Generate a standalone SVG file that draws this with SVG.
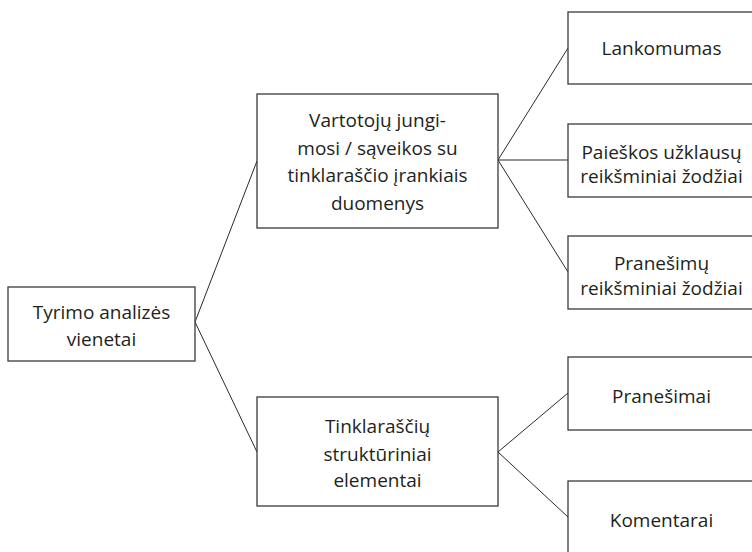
<svg xmlns="http://www.w3.org/2000/svg" width="752" height="552" viewBox="0 0 752 552">
<style>
.box{fill:#fff;stroke:#3a3a3a;stroke-width:1.3}
.lbl{font-family:"Open Sans","Noto Sans",sans-serif;font-size:19px;fill:#231f20;text-anchor:middle}
.edge{stroke:#2a2a2a;stroke-width:1;fill:none}
</style>
<rect width="752" height="552" fill="#fff"/>
<g id="connectors">
<line class="edge" x1="195" y1="322" x2="257" y2="161"/>
<line class="edge" x1="195" y1="322" x2="257" y2="452"/>
<line class="edge" x1="498" y1="160" x2="568" y2="48"/>
<line class="edge" x1="498" y1="160" x2="568" y2="160"/>
<line class="edge" x1="498" y1="160" x2="568" y2="272"/>
<line class="edge" x1="498" y1="452" x2="568" y2="393"/>
<line class="edge" x1="498" y1="452" x2="568" y2="517"/>
</g>
<g id="root">
<rect class="box" x="8" y="287" width="187" height="74"/>
<text class="lbl" x="101.5" y="319">Tyrimo analizės</text>
<text class="lbl" x="101.5" y="346">vienetai</text>
</g>
<g id="users">
<rect class="box" x="257" y="94" width="241" height="134"/>
<text class="lbl" x="377.5" y="127">Vartotojų jungi-</text>
<text class="lbl" x="377.5" y="154.5">mosi / sąveikos su</text>
<text class="lbl" x="377.5" y="182">tinklaraščio įrankiais</text>
<text class="lbl" x="377.5" y="209.5">duomenys</text>
</g>
<g id="struct">
<rect class="box" x="257" y="397" width="241" height="109"/>
<text class="lbl" x="377.5" y="433">Tinklaraščių</text>
<text class="lbl" x="377.5" y="460.5">struktūriniai</text>
<text class="lbl" x="377.5" y="487">elementai</text>
</g>
<g id="lankomumas">
<rect class="box" x="568" y="12" width="190" height="72"/>
<text class="lbl" x="661.5" y="55">Lankomumas</text>
</g>
<g id="paieskos">
<rect class="box" x="568" y="124" width="190" height="73"/>
<text class="lbl" x="661.5" y="158.5">Paieškos užklausų</text>
<text class="lbl" x="661.5" y="183">reikšminiai žodžiai</text>
</g>
<g id="pranesimu">
<rect class="box" x="568" y="236" width="190" height="73"/>
<text class="lbl" x="661.5" y="270">Pranešimų</text>
<text class="lbl" x="661.5" y="295">reikšminiai žodžiai</text>
</g>
<g id="pranesimai">
<rect class="box" x="568" y="357" width="190" height="73"/>
<text class="lbl" x="661.5" y="403">Pranešimai</text>
</g>
<g id="komentarai">
<rect class="box" x="568" y="481" width="190" height="80"/>
<text class="lbl" x="661.5" y="527">Komentarai</text>
</g>
</svg>
